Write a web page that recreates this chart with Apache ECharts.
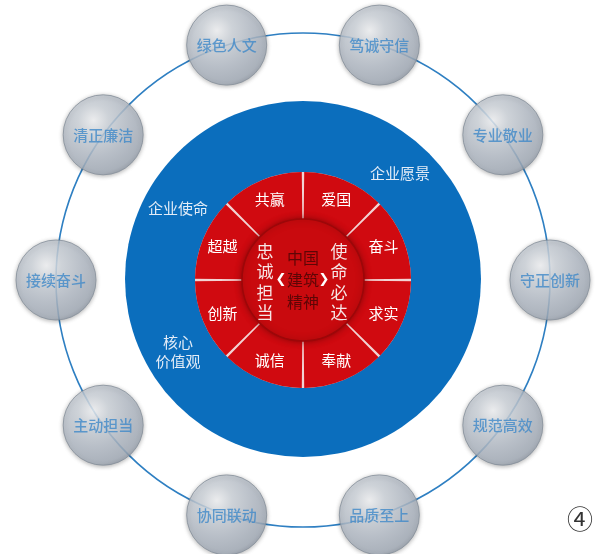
<!DOCTYPE html>
<html><head><meta charset="utf-8">
<script src="https://cdn.jsdelivr.net/npm/echarts@6/dist/echarts.min.js"></script>
<style>html,body{margin:0;padding:0;background:#fff}#c{width:598px;height:554px}</style>
</head><body><div id="c"></div>
<script>
// ---- data ----
const ballLabels = ['守正创新','专业敬业','笃诚守信','绿色人文','清正廉洁','接续奋斗','主动担当','协同联动','品质至上','规范高效'];
const ballAngles = [0,36,72,108,144,180,216,252,288,324];
const ringLabels = ['爱国','奋斗','求实','奉献','诚信','创新','超越','共赢'];
const ringValues = [1,1,1,1,1,1,1,1];
const coreLines = ['中国','建筑','精神'];
const leftColumn = '忠诚担当';
const rightColumn = '使命必达';
const blueLabels = ['企业愿景','企业使命','核心\n价值观'];
const figureMark = '④';

const FONT = '"Noto Sans CJK SC", "Noto Sans", sans-serif';
const C = [303, 280];
const chart = echarts.init(document.getElementById('c'), null, {renderer:'canvas'});

const ballColor = new echarts.graphic.RadialGradient(0.38, 0.32, 0.75, [
  {offset:0, color:'#f8f9fb'},
  {offset:0.25, color:'#d3d9e0'},
  {offset:0.6, color:'#b8c0cb'},
  {offset:0.88, color:'#a6afbb'},
  {offset:1, color:'#8c95a1'}
]);

const option = {
  backgroundColor:'#ffffff',
  animation:false,
  polar:{center:C, radius:247},
  angleAxis:{type:'value', min:0, max:360, startAngle:0, clockwise:false,
    axisLine:{show:true, lineStyle:{color:'#2e7fc2', width:1.6}},
    axisTick:{show:false}, axisLabel:{show:false}, splitLine:{show:false}},
  radiusAxis:{type:'value', min:0, max:1, show:false,
    axisLine:{show:false}, axisTick:{show:false}, axisLabel:{show:false}, splitLine:{show:false}},
  series:[
    {type:'pie', center:[303,279], radius:[0,178], silent:true, z:1,
      label:{show:false}, labelLine:{show:false},
      itemStyle:{color:'#0b6ebd'}, data:[{value:1, name:'bg'}]},
    {type:'pie', center:C, radius:[60,108], silent:true, z:2,
      label:{show:false}, labelLine:{show:false},
      itemStyle:{color:'#f2d3d3'}, data:[{value:1, name:'sep'}]},
    {type:'pie', center:C, radius:[60,108], startAngle:90, clockwise:true, padAngle:1.3,
      silent:true, z:3, minAngle:0,
      itemStyle:{color:'#d00a10'},
      label:{show:true, position:'inside', color:'#ffffff', fontSize:15, fontFamily:FONT},
      labelLine:{show:false},
      data: ringLabels.map((n,i)=>({name:n, value:ringValues[i]}))},
    {type:'pie', center:C, radius:[0,61], silent:true, z:4,
      label:{show:false}, labelLine:{show:false},
      itemStyle:{color:'#c90a0e', borderColor:'#9c0709', borderWidth:1.5,
        shadowBlur:6, shadowColor:'rgba(80,0,0,0.5)'},
      data:[{value:1, name:'core'}]},
    {type:'scatter', coordinateSystem:'polar', symbol:'circle', symbolSize:80, z:5,
      itemStyle:{color:ballColor, borderColor:'#858e9a', borderWidth:1,
        shadowBlur:4, shadowColor:'rgba(0,0,0,0.35)', shadowOffsetY:1},
      label:{show:true, position:'inside', formatter:p=>p.name, color:'#3f88c8',
        fontSize:15, fontWeight:500, fontFamily:FONT},
      data: ballLabels.map((n,i)=>({name:n, value:[1, ballAngles[i]]}))}
  ],
  graphic:[
    {type:'text', x:C[0], y:C[1], z:10, style:{text:coreLines.join('\n'), fill:'#5e0606',
      font:'16px '+FONT, lineHeight:22, align:'center', verticalAlign:'middle'}},
    {type:'text', x:281, y:280, z:10, style:{text:'❮', fill:'#ffffff',
      font:'bold 13px "DejaVu Sans", sans-serif', align:'center', verticalAlign:'middle'}},
    {type:'text', x:324, y:280, z:10, style:{text:'❯', fill:'#ffffff',
      font:'bold 13px "DejaVu Sans", sans-serif', align:'center', verticalAlign:'middle'}},
    {type:'text', x:265, y:282, z:10, style:{text:leftColumn.split('').join('\n'), fill:'#f6e6e6',
      font:'17px '+FONT, lineHeight:20.5, align:'center', verticalAlign:'middle'}},
    {type:'text', x:339, y:282, z:10, style:{text:rightColumn.split('').join('\n'), fill:'#f6e6e6',
      font:'17px '+FONT, lineHeight:20.5, align:'center', verticalAlign:'middle'}},
    {type:'text', x:400, y:173, z:10, style:{text:blueLabels[0], fill:'#e3ecf7',
      font:'15px '+FONT, align:'center', verticalAlign:'middle'}},
    {type:'text', x:178, y:208, z:10, style:{text:blueLabels[1], fill:'#e3ecf7',
      font:'15px '+FONT, align:'center', verticalAlign:'middle'}},
    {type:'text', x:178, y:352, z:10, style:{text:blueLabels[2], fill:'#e3ecf7',
      font:'15px '+FONT, lineHeight:19, align:'center', verticalAlign:'middle'}},
    {type:'text', x:580, y:522, z:10, style:{text:figureMark, fill:'#333333',
      font:'26px "DejaVu Serif", "Noto Sans CJK SC", serif', align:'center', verticalAlign:'middle'}}
  ]
};
chart.setOption(option);
</script></body></html>
